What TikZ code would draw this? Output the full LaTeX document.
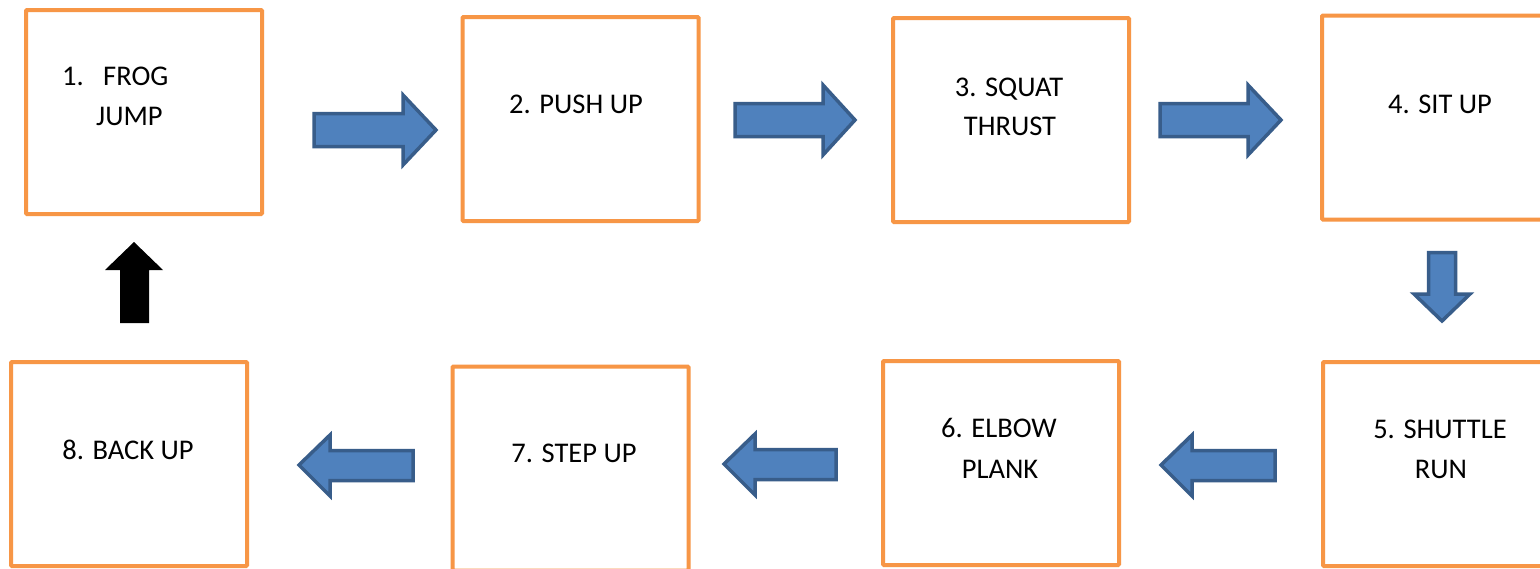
\documentclass[tikz,border=0pt]{standalone}
\usepackage{fontspec}
\setmainfont{Carlito}
\definecolor{boxorange}{HTML}{F79646}
\definecolor{arrowfill}{HTML}{4F81BD}
\definecolor{arrowline}{HTML}{385D8A}
\begin{document}
\begin{tikzpicture}[x=1pt,y=-1pt,
  box/.style={draw=boxorange, line width=4pt, rectangle, fill=white, inner sep=0pt,
    minimum width=236pt, minimum height=204pt, rounded corners=1pt},
  lbl/.style={inner sep=0pt, font=\fontsize{28.5}{41}\selectfont, text=black},
  blockarrow/.style={fill=arrowfill, draw=arrowline, line width=3.5pt, line join=miter},
  blackarrow/.style={fill=black, draw=none}]
\useasboundingbox (0,0) rectangle (1540,568);
\clip (0,0) rectangle (1540,568);
\fill[white] (0,0) rectangle (1540,568);

% boxes
\node[box] (b1) at (144,112) {};
\node[box] (b2) at (580.5,119) {};
\node[box] (b3) at (1011,120) {};
\node[box] (b4) at (1440,117.5) {};
\node[box] (b5) at (1441,464) {};
\node[box] (b6) at (1001,463) {};
\node[box] (b7) at (570.5,468.5) {};
\node[box] (b8) at (129,464) {};

% labels
\node[lbl, anchor=base west] (t1n) at (62,85) {1.};
\node[lbl, anchor=base west] (t1a) at (103,85) {FROG};
\node[lbl, anchor=base west] (t1b) at (96,125) {JUMP};
\node[lbl, anchor=base] (t2) at (576,113) {2. PUSH UP};
\node[lbl, anchor=base] (t3a) at (1009,96) {3. SQUAT};
\node[lbl, anchor=base] (t3b) at (1010,135) {THRUST};
\node[lbl, anchor=base] (t4) at (1440,113) {4. SIT UP};
\node[lbl, anchor=base] (t5a) at (1440,438) {5. SHUTTLE};
\node[lbl, anchor=base] (t5b) at (1441,478) {RUN};
\node[lbl, anchor=base] (t6a) at (999,437) {6. ELBOW};
\node[lbl, anchor=base] (t6b) at (1000,478) {PLANK};
\node[lbl, anchor=base] (t7) at (574,462) {7. STEP UP};
\node[lbl, anchor=base] (t8) at (128,459) {8. BACK UP};

% right arrows (top row)
\draw[blockarrow] (314,113.5) -- (403,113.5) -- (403,95) -- (436,130) -- (403,165) -- (403,146.5) -- (314,146.5) -- cycle;
\draw[blockarrow] (735,103.5) -- (823,103.5) -- (823,85) -- (855,120) -- (823,155) -- (823,136.5) -- (735,136.5) -- cycle;
\draw[blockarrow] (1160,103.5) -- (1248,103.5) -- (1248,85) -- (1281,120) -- (1248,155) -- (1248,136.5) -- (1160,136.5) -- cycle;

% down arrow
\draw[blockarrow] (1428.5,252.5) -- (1455.5,252.5) -- (1455.5,294) -- (1470,294) -- (1442,321) -- (1414,294) -- (1428.5,294) -- cycle;

% left arrows (bottom row)
\draw[blockarrow] (1275,450.5) -- (1192,450.5) -- (1192,435) -- (1161,465) -- (1192,496) -- (1192,480.5) -- (1275,480.5) -- cycle;
\draw[blockarrow] (836,449.5) -- (755,449.5) -- (755,434) -- (724,464) -- (755,495) -- (755,479.5) -- (836,479.5) -- cycle;
\draw[blockarrow] (413,450.5) -- (330,450.5) -- (330,435) -- (299,465) -- (330,496) -- (330,480.5) -- (413,480.5) -- cycle;

% black up arrow
\fill[blackarrow] (120,323) -- (120,270) -- (105,270) -- (134,242) -- (163,270) -- (149,270) -- (149,323) -- cycle;
\end{tikzpicture}
\end{document}
